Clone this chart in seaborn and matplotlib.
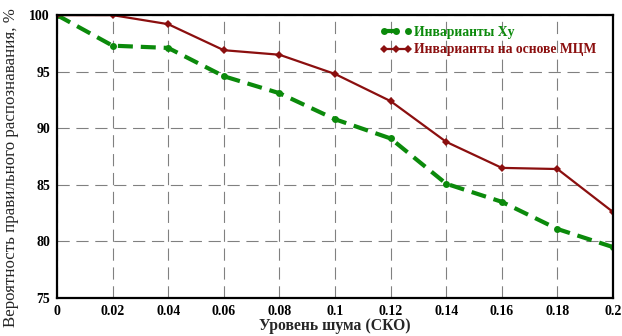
import matplotlib
matplotlib.use("Agg")
import matplotlib.pyplot as plt
import seaborn as sns
import pandas as pd

noise = [0, 0.02, 0.04, 0.06, 0.08, 0.1, 0.12, 0.14, 0.16, 0.18, 0.2]
xy_inv = [100, 97.3, 97.1, 94.6, 93.1, 90.8, 89.1, 85.1, 83.5, 81.1, 79.5]
mcm_inv = [100, 100, 99.2, 96.9, 96.5, 94.8, 92.4, 88.8, 86.5, 86.4, 82.6]
xticks = [0, 0.02, 0.04, 0.06, 0.08, 0.1, 0.12, 0.14, 0.16, 0.18, 0.2]
xtick_labels = ["0", "0.02", "0.04", "0.06", "0.08", "0.1", "0.12", "0.14", "0.16", "0.18", "0.2"]

sns.set_style("white")
plt.rcParams['font.family'] = ['Liberation Serif', 'DejaVu Serif']

df = pd.DataFrame({'x': noise, 'xy': xy_inv, 'mcm': mcm_inv})

fig = plt.figure(figsize=(6.22, 3.36), dpi=100)
ax = fig.add_axes([0.0916, 0.113, 0.894, 0.842])

sns.lineplot(data=df, x='x', y='xy', ax=ax, color='#0b8a0b', linewidth=3.0,
             linestyle=(0, (3.6, 1.9)), marker='o', markersize=5, markeredgewidth=0,
             label='Инварианты Xy')
sns.lineplot(data=df, x='x', y='mcm', ax=ax, color='#8b0f0f', linewidth=1.6,
             marker='D', markersize=4, markeredgewidth=0,
             label='Инварианты на основе МЦМ')

ax.set_xlim(0, 0.2)
ax.set_ylim(75, 100)
ax.set_xticks(xticks)
ax.set_xticklabels(xtick_labels)
ax.set_yticks([75, 80, 85, 90, 95, 100])
ax.set_yticks([77.5, 82.5, 87.5, 92.5, 97.5], minor=True)
ax.grid(True, which='major', color='#808080', linestyle=(0, (11, 6)), linewidth=0.8)
ax.tick_params(axis='both', which='both', direction='inout', length=6, width=1.2,
               labelsize=10, colors='black', pad=2)
for lbl in ax.get_xticklabels() + ax.get_yticklabels():
    lbl.set_fontweight('bold')
for sp in ax.spines.values():
    sp.set_visible(True)
    sp.set_color('black')
    sp.set_linewidth(1.6)

ax.set_xlabel('Уровень шума (СКО)', fontsize=11.3, fontweight='bold', labelpad=0)
ax.set_ylabel('Вероятность правильного распознавания, %', fontsize=12.2)
ax.yaxis.set_label_coords(-0.069, 0.46)

leg = ax.legend(loc='upper right', bbox_to_anchor=(0.98, 0.98), frameon=False,
                handlelength=2.4, numpoints=3, borderaxespad=0,
                labelspacing=0.3, handletextpad=0.15,
                prop={'weight': 'bold', 'size': 9.8})
for txt, c in zip(leg.get_texts(), ['#0b8a0b', '#8b0f0f']):
    txt.set_color(c)

fig.savefig('out.png', dpi=100)
